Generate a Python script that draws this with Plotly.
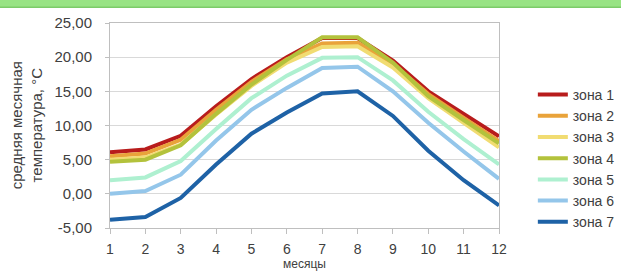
import plotly.graph_objects as go

months = list(range(1, 13))
zone_names = ["зона 1", "зона 2", "зона 3", "зона 4", "зона 5", "зона 6", "зона 7"]
zone1 = [6.1, 6.5, 8.5, 12.8, 16.8, 20.0, 22.8, 22.8, 19.5, 15.0, 11.7, 8.4]
zone2 = [5.5, 5.9, 7.9, 12.3, 16.4, 19.7, 22.0, 22.1, 19.0, 14.6, 11.1, 7.7]
zone3 = [5.0, 5.3, 7.2, 11.6, 15.8, 19.2, 21.5, 21.6, 18.5, 14.0, 10.4, 6.8]
zone4 = [4.7, 5.0, 7.1, 11.7, 16.0, 19.6, 22.9, 22.9, 19.2, 14.3, 10.8, 7.4]
zone5 = [2.0, 2.4, 4.8, 9.5, 14.0, 17.3, 19.9, 20.0, 16.6, 12.0, 8.0, 4.3]
zone6 = [0.0, 0.4, 2.8, 7.8, 12.3, 15.5, 18.4, 18.6, 15.0, 10.4, 6.2, 2.2]
zone7 = [-3.8, -3.4, -0.6, 4.3, 8.8, 11.9, 14.7, 15.0, 11.4, 6.3, 2.0, -1.7]
zones = [zone1, zone2, zone3, zone4, zone5, zone6, zone7]
colors = ["#B81C1C", "#E9A33A", "#F1DC72", "#B3C23C", "#AEF0D0", "#94C6EA", "#1E62A6"]
y_ticks = [-5, 0, 5, 10, 15, 20, 25]
y_tick_labels = ["-5,00", "0,00", "5,00", "10,00", "15,00", "20,00", "25,00"]

FONT = "Liberation Sans, Arial, sans-serif"
TXT = "#404040"

fig = go.Figure()
for name, vals, col in zip(zone_names, zones, colors):
    fig.add_trace(go.Scatter(x=months, y=vals, mode="lines", name=name,
                             line=dict(color=col, width=4)))

fig.update_layout(
    width=621, height=272,
    margin=dict(l=110, r=122, t=23, b=44, autoexpand=False),
    paper_bgcolor="white", plot_bgcolor="white",
    font=dict(family=FONT, size=14, color=TXT),
    showlegend=True,
    legend=dict(x=1.087, y=0.339, xanchor="left", yanchor="middle",
                font=dict(family=FONT, size=14, color=TXT),
                itemwidth=30, tracegroupgap=0, bgcolor="rgba(0,0,0,0)"),
    xaxis=dict(range=[1, 12], tickmode="array", tickvals=months, ticktext=[str(m) for m in months],
               showgrid=False, zeroline=False, showline=True, linecolor="#BFBFBF", mirror=True,
               ticks="outside", ticklen=5, tickcolor="#BFBFBF", ticklabelstandoff=3,
               tickfont=dict(size=14), automargin=False),
    yaxis=dict(range=[-5, 25], tickmode="array", tickvals=y_ticks, ticktext=y_tick_labels,
               showgrid=True, gridcolor="#D9D9D9", zeroline=False, showline=True, linecolor="#BFBFBF",
               mirror=True, ticks="outside", ticklen=4, tickcolor="#BFBFBF", ticklabelstandoff=10,
               tickfont=dict(size=15), automargin=False),
)
fig.add_annotation(text="средняя месячная<br>температура, °С", textangle=-90,
                   xref="paper", yref="paper", x=-0.214, y=0.50, xanchor="center", yanchor="middle",
                   showarrow=False, font=dict(family=FONT, size=15, color=TXT))
fig.add_annotation(text="месяцы", xref="paper", yref="paper", x=0.5, y=-0.2146,
                   xanchor="center", yanchor="bottom", showarrow=False, borderpad=0,
                   font=dict(family=FONT, size=12, color=TXT))
fig.add_shape(type="rect", xref="paper", yref="paper", x0=-0.5, x1=1.5, y0=1.075, y1=1.2,
              fillcolor="#98E384", line=dict(width=0), layer="above")
fig.add_shape(type="line", xref="paper", yref="paper", x0=-0.5, x1=1.5, y0=1.077, y1=1.077,
              line=dict(color="#7CCB69", width=1.5), layer="above")
fig.write_html("out.html", config={"displayModeBar": False},
               post_script="document.body.style.margin='0';")
